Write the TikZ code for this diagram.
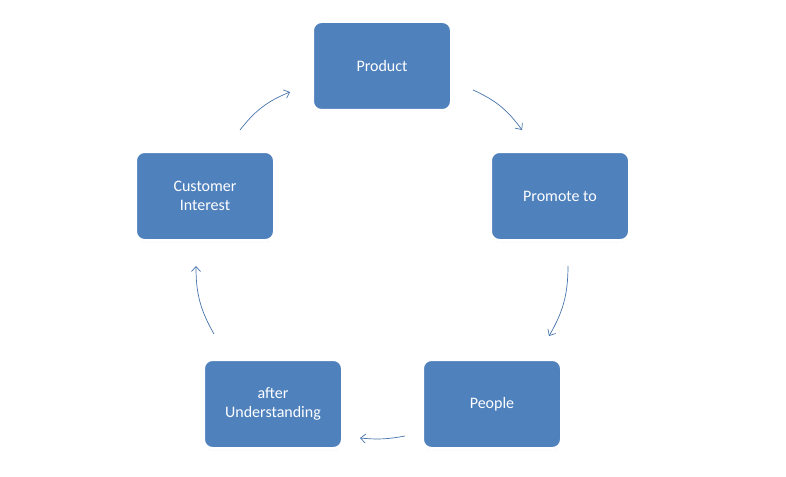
\documentclass[tikz,border=0pt]{standalone}
\usepackage{fontspec}
\setmainfont{Carlito}
\usetikzlibrary{arrows.meta,shadows}
\definecolor{boxblue}{HTML}{4F81BD}
\begin{document}
\begin{tikzpicture}[x=1pt,y=-1pt,
  box/.style={draw=white,line width=3pt,fill=boxblue,rounded corners=9pt,
    minimum width=139pt,minimum height=89pt,text=white,align=center,
    font=\fontsize{16}{19}\selectfont,
    drop shadow={shadow xshift=0pt,shadow yshift=-1.5pt,opacity=0.35}},
  conn/.style={draw=boxblue!90!black,line width=0.7pt,-{Straight Barb[length=5pt,width=9pt]}}]
\useasboundingbox (0,0) rectangle (786,476);
\node[box] (p) at (382,66) {Product};
\node[box] (pr) at (560,196) {Promote to};
\node[box] (pe) at (492,404) {People};
\node[box] (au) at (273,404) {after\\Understanding};
\node[box] (ci) at (205,196) {Customer\\Interest};
\coordinate (a1) at (473,90); \coordinate (b1) at (522,130);
\coordinate (a2) at (568,266); \coordinate (b2) at (549,336);
\coordinate (a3) at (405,436); \coordinate (b3) at (360,438);
\coordinate (a4) at (214,334); \coordinate (b4) at (196,266);
\coordinate (a5) at (240,130); \coordinate (b5) at (290,92);
\draw[conn] (a1) to[bend left=15] (b1);
\draw[conn] (a2) to[bend left=15] (b2);
\draw[conn] (a3) to[bend left=8] (b3);
\draw[conn] (a4) to[bend left=15] (b4);
\draw[conn] (a5) to[bend left=15] (b5);
\end{tikzpicture}
\end{document}
